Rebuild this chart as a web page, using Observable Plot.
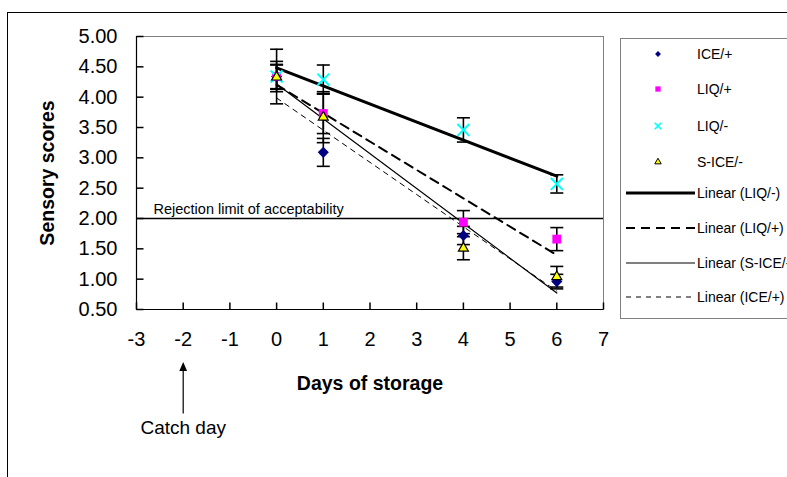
<!DOCTYPE html>
<html>
<head>
<meta charset="utf-8">
<script src="https://cdn.jsdelivr.net/npm/d3@7"></script>
<script src="https://cdn.jsdelivr.net/npm/@observablehq/plot@0.6"></script>
<style>
  html, body { margin: 0; padding: 0; background: #fff; }
  #wrap { position: relative; width: 787px; height: 477px; overflow: hidden; font-family: "Liberation Sans", Arial, sans-serif; }
  #outer { position: absolute; left: 7px; top: 12px; width: 900px; height: 600px; border: 1px solid #000; box-sizing: border-box; pointer-events: none; }
  #chart { position: absolute; left: 0; top: 0; }
  #legend { position: absolute; left: 0; top: 0; }
</style>
</head>
<body>
<div id="wrap">
  <div id="outer"></div>
  <div id="chart"></div>
  <svg id="legend" width="787" height="477"></svg>
</div>
<script>
// ---- data ----
const days = [0, 1, 4, 6];
const seriesNames = ["ICE/+", "LIQ/+", "LIQ/-", "S-ICE/-"];
const iceP  = [4.34, 3.09, 1.72, 0.96];
const liqP  = [4.34, 3.73, 1.94, 1.66];
const liqM  = [4.34, 4.29, 3.46, 2.57];
const siceM = [4.33, 3.67, 1.51, 1.04];
const iceErr  = [0.45, 0.23, 0.15, 0.12];
const liqPErr = [0.25, 0.33, 0.19, 0.19];
const liqMErr = [0.20, 0.24, 0.20, 0.15];
const siceErr = [0.20, 0.42, 0.19, 0.17];
const trendNames = ["Linear (LIQ/-)", "Linear (LIQ/+)", "Linear (S-ICE/-)", "Linear (ICE/+)"];
const xTicks = [-3, -2, -1, 0, 1, 2, 3, 4, 5, 6, 7];
const yTicks = [0.5, 1, 1.5, 2, 2.5, 3, 3.5, 4, 4.5, 5];
const xDomain = [-3, 7];
const yDomain = [0.5, 5];
const rejectionLimit = 2;
const rejectionLabel = "Rejection limit of acceptability";
const catchDay = -2;
const catchLabel = "Catch day";
const xLabel = "Days of storage";
const yLabel = "Sensory scores";

// ---- table ----
const valuesBySeries = {"ICE/+": iceP, "LIQ/+": liqP, "LIQ/-": liqM, "S-ICE/-": siceM};
const errsBySeries = {"ICE/+": iceErr, "LIQ/+": liqPErr, "LIQ/-": liqMErr, "S-ICE/-": siceErr};
const rows = seriesNames.flatMap(s => days.map((d, i) => ({day: d, series: s, score: valuesBySeries[s][i], err: errsBySeries[s][i]})));
const of = s => rows.filter(r => r.series === s);

// ---- custom symbols ----
const hLine = {draw(ctx, size) { const r = Math.sqrt(size / Math.PI); ctx.moveTo(-r, 0); ctx.lineTo(r, 0); }};
const vLine = {draw(ctx, size) { const r = Math.sqrt(size / Math.PI); ctx.moveTo(0, -r); ctx.lineTo(0, r); }};
const upArrow = {draw(ctx) { ctx.moveTo(0, 25); ctx.lineTo(0, -20); ctx.moveTo(-3, -18); ctx.lineTo(0, -25); ctx.lineTo(3, -18); ctx.closePath(); }};

const FONT = "Liberation Sans, Arial, sans-serif";

const plot = Plot.plot({
  width: 787,
  height: 477,
  marginLeft: 136,
  marginRight: 184,
  marginTop: 36,
  marginBottom: 168,
  style: {fontFamily: FONT, fontSize: "15px", background: "transparent", overflow: "visible"},
  x: {domain: xDomain},
  y: {domain: yDomain},
  marks: [
    Plot.frame({stroke: "#808080"}),
    Plot.ruleY([rejectionLimit], {stroke: "#000", strokeWidth: 1.5}),
    Plot.text([{y: rejectionLimit, t: rejectionLabel}], {y: "y", text: "t", frameAnchor: "left", textAnchor: "start", lineAnchor: "middle", dx: 17, dy: -9, fontSize: 14.5, fill: "#000"}),
    // trend lines
    Plot.linearRegressionY(of("LIQ/-"), {x: "day", y: "score", ci: 0, stroke: "#000", strokeWidth: 3}),
    Plot.linearRegressionY(of("LIQ/+"), {x: "day", y: "score", ci: 0, stroke: "#000", strokeWidth: 2, strokeDasharray: "9,6"}),
    Plot.linearRegressionY(of("S-ICE/-"), {x: "day", y: "score", ci: 0, stroke: "#000", strokeWidth: 1.2}),
    Plot.linearRegressionY(of("ICE/+"), {x: "day", y: "score", ci: 0, stroke: "#000", strokeWidth: 1, strokeDasharray: "5,5"}),
    // error bars
    Plot.ruleX(rows, {x: "day", y1: d => d.score - d.err, y2: d => d.score + d.err, stroke: "#000", strokeWidth: 1.6}),
    Plot.dot(rows, {x: "day", y: d => d.score - d.err, symbol: hLine, r: 6.5, fill: "none", stroke: "#000", strokeWidth: 1.6}),
    Plot.dot(rows, {x: "day", y: d => d.score + d.err, symbol: hLine, r: 6.5, fill: "none", stroke: "#000", strokeWidth: 1.6}),
    // markers
    Plot.dot(of("ICE/+"), {x: "day", y: "score", symbol: "diamond2", r: 5, fill: "#000080", stroke: "none"}),
    Plot.dot(of("LIQ/+"), {x: "day", y: "score", symbol: "square", r: 5, fill: "#ff00ff", stroke: "none"}),
    Plot.dot(of("LIQ/-"), {x: "day", y: "score", symbol: "times", r: 5.5, fill: "none", stroke: "#00ffff", strokeWidth: 2}),
    Plot.dot(of("S-ICE/-"), {x: "day", y: "score", symbol: "triangle", r: 3.7, fill: "#ffff00", stroke: "#000", strokeWidth: 1.2}),
    // axes
    Plot.ruleX([xDomain[0]], {stroke: "#000", strokeWidth: 1.2}),
    Plot.ruleY([yDomain[0]], {stroke: "#000", strokeWidth: 1.2}),
    Plot.dot(xTicks, {x: d => d, frameAnchor: "bottom", dy: -3.5, symbol: vLine, r: 3.5, fill: "none", stroke: "#000"}),
    Plot.dot(yTicks, {y: d => d, frameAnchor: "left", dx: 3.5, symbol: hLine, r: 3.5, fill: "none", stroke: "#000"}),
    Plot.axisX({ticks: xTicks, tickSize: 0, tickPadding: 22, fontSize: 20, label: null, tickFormat: d => String(d), fill: "#000"}),
    Plot.axisY({ticks: yTicks, tickSize: 0, tickPadding: 19, fontSize: 20, label: null, tickFormat: d => d.toFixed(2), fill: "#000"}),
    Plot.text([xLabel], {frameAnchor: "bottom", textAnchor: "middle", lineAnchor: "middle", dy: 74, fontWeight: "bold", fontSize: 19.5, fill: "#000"}),
    Plot.text([yLabel], {frameAnchor: "left", textAnchor: "middle", lineAnchor: "middle", dx: -89, rotate: -90, fontWeight: "bold", fontSize: 19.5, fill: "#000"}),
    // catch day annotation
    Plot.dot([{x: catchDay}], {x: "x", frameAnchor: "bottom", dy: 79, symbol: upArrow, r: 5, fill: "#000", stroke: "#000", strokeWidth: 1.2}),
    Plot.text([{x: catchDay, t: catchLabel}], {x: "x", text: "t", frameAnchor: "bottom", textAnchor: "middle", lineAnchor: "middle", dy: 118, fontSize: 19, fill: "#000"})
  ]
});
document.getElementById("chart").appendChild(plot);

// ---- legend ----
const lg = d3.select("#legend");
lg.append("rect").attr("x", 620.5).attr("y", 38.5).attr("width", 300).attr("height", 280)
  .attr("fill", "#fff").attr("stroke", "#808080");
const markerY = [54, 89, 126, 162];
const mk = [
  {sym: d3.symbolDiamond2, size: 22, fill: "#000080", stroke: "none", sw: 0},
  {sym: d3.symbolSquare, size: 28, fill: "#ff00ff", stroke: "none", sw: 0},
  {sym: d3.symbolTimes, size: 30, fill: "none", stroke: "#00ffff", sw: 1.6},
  {sym: d3.symbolTriangle, size: 18, fill: "#ffff00", stroke: "#000", sw: 1}
];
seriesNames.forEach((s, i) => {
  lg.append("path").attr("d", d3.symbol(mk[i].sym, mk[i].size)())
    .attr("transform", `translate(658,${markerY[i]})`)
    .attr("fill", mk[i].fill).attr("stroke", mk[i].stroke).attr("stroke-width", mk[i].sw);
  lg.append("text").attr("x", 697).attr("y", markerY[i]).attr("dy", "0.35em")
    .attr("font-family", FONT).attr("font-size", 14).text(s);
});
const lineY = [193, 228, 263, 297];
const ls = [
  {w: 3, dash: null},
  {w: 2, dash: "9,6"},
  {w: 1.2, dash: null},
  {w: 1, dash: "5,5"}
];
trendNames.forEach((t, i) => {
  lg.append("line").attr("x1", 626).attr("x2", 695).attr("y1", lineY[i]).attr("y2", lineY[i])
    .attr("stroke", "#000").attr("stroke-width", ls[i].w).attr("stroke-dasharray", ls[i].dash);
  lg.append("text").attr("x", 697).attr("y", lineY[i]).attr("dy", "0.35em")
    .attr("font-family", FONT).attr("font-size", 14).text(t);
});
</script>
</body>
</html>
